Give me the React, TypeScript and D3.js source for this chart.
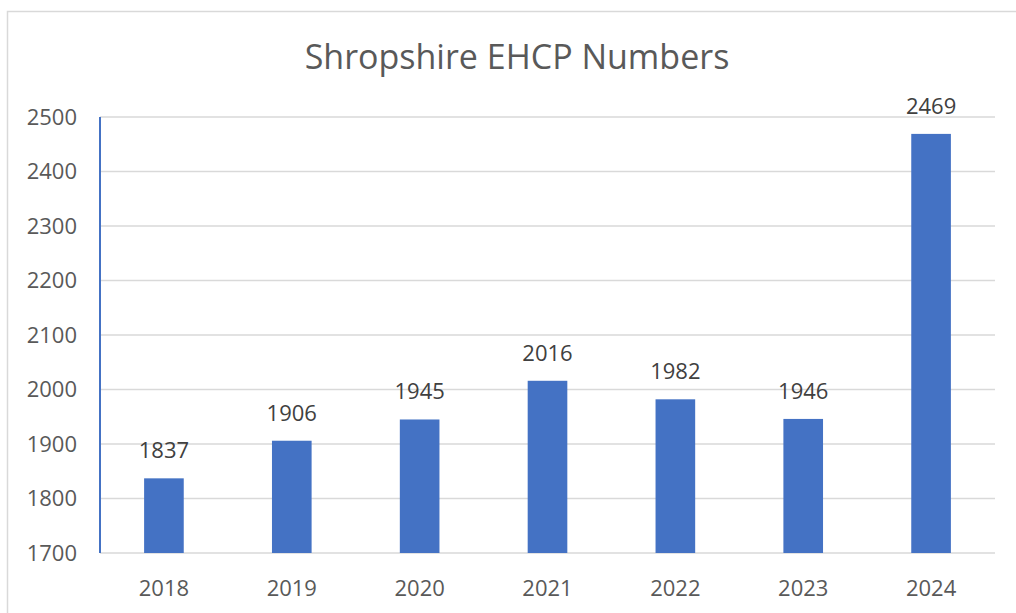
import { useEffect, useRef } from 'react'
import * as d3 from 'd3'

const years = ['2018', '2019', '2020', '2021', '2022', '2023', '2024']
const ehcpCounts = [1837, 1906, 1945, 2016, 1982, 1946, 2469]
const yTicks = [1700, 1800, 1900, 2000, 2100, 2200, 2300, 2400, 2500]
const chartTitle = 'Shropshire EHCP Numbers'

const width = 1016
const height = 613
const font = '"Open Sans", Lato, sans-serif'
const textColor = '#595959'
const barColor = '#4472C4'
const gridColor = '#d9d9d9'

export default function App() {
  const svgRef = useRef<SVGSVGElement>(null)

  useEffect(() => {
    if (!svgRef.current) return
    const svg = d3.select(svgRef.current)
    svg.selectAll('*').remove()

    const margin = { top: 117, right: 21, bottom: 60, left: 100 }
    const innerWidth = width - margin.left - margin.right
    const innerHeight = height - margin.top - margin.bottom

    svg.append('rect')
      .attr('width', width)
      .attr('height', height)
      .attr('fill', '#ffffff')

    // outer chart border (only top + left visible in the crop)
    svg.append('path')
      .attr('d', `M7.5,${height} V11.5 H${width}`)
      .attr('fill', 'none')
      .attr('stroke', gridColor)
      .attr('stroke-width', 1.5)

    svg.append('text')
      .attr('x', 517)
      .attr('y', 69)
      .attr('text-anchor', 'middle')
      .attr('font-family', font)
      .attr('font-size', '34px')
      .attr('fill', textColor)
      .text(chartTitle)

    const g = svg.append('g')
      .attr('transform', `translate(${margin.left},${margin.top})`)

    const x = d3.scaleBand<string>()
      .domain(years)
      .range([0, innerWidth])
      .paddingInner(0.69)
      .paddingOuter(0.345)

    const y = d3.scaleLinear()
      .domain([1700, 2500])
      .range([innerHeight, 0])

    g.append('g')
      .selectAll('line')
      .data(yTicks)
      .join('line')
      .attr('x1', 0)
      .attr('x2', innerWidth)
      .attr('y1', d => y(d))
      .attr('y2', d => y(d))
      .attr('stroke', gridColor)
      .attr('stroke-width', 1.5)

    g.selectAll('.bar')
      .data(ehcpCounts)
      .join('rect')
      .attr('class', 'bar')
      .attr('x', (_, i) => x(years[i])!)
      .attr('y', d => y(d))
      .attr('width', x.bandwidth())
      .attr('height', d => innerHeight - y(d))
      .attr('fill', barColor)

    g.selectAll('.label')
      .data(ehcpCounts)
      .join('text')
      .attr('class', 'label')
      .attr('x', (_, i) => x(years[i])! + x.bandwidth() / 2)
      .attr('y', d => y(d) - 20)
      .attr('text-anchor', 'middle')
      .attr('font-family', font)
      .attr('font-size', '22px')
      .attr('fill', '#404040')
      .text(d => d)

    // left axis line
    g.append('line')
      .attr('x1', 0)
      .attr('x2', 0)
      .attr('y1', 0)
      .attr('y2', innerHeight)
      .attr('stroke', barColor)
      .attr('stroke-width', 2)

    const yAxis = g.append('g')
      .call(d3.axisLeft(y).tickValues(yTicks).tickSize(0).tickPadding(23).tickFormat(d => String(d)))
    yAxis.select('.domain').remove()
    yAxis.selectAll('text')
      .attr('font-family', font)
      .attr('font-size', '22px')
      .attr('fill', textColor)

    const xAxis = g.append('g')
      .attr('transform', `translate(0,${innerHeight})`)
      .call(d3.axisBottom(x).tickSize(0).tickPadding(27))
    xAxis.select('.domain').remove()
    xAxis.selectAll('text')
      .attr('font-family', font)
      .attr('font-size', '22px')
      .attr('fill', textColor)
  }, [])

  return (
    <svg
      ref={svgRef}
      width={width}
      height={height}
      style={{ position: 'absolute', left: 0, top: 0, display: 'block' }}
    />
  )
}
